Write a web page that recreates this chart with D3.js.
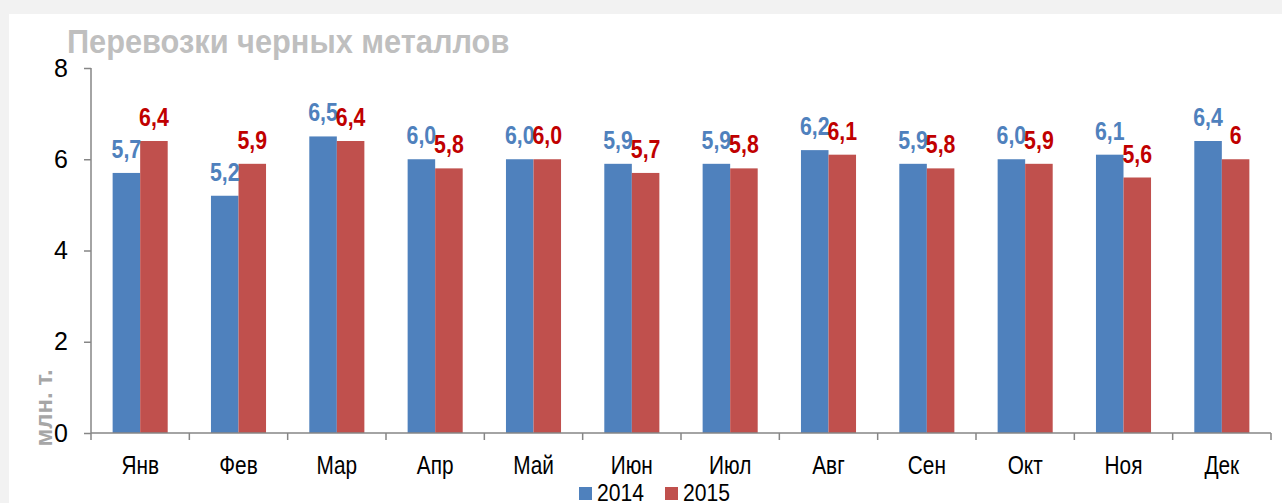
<!DOCTYPE html>
<html>
<head>
<meta charset="utf-8">
<script src="https://cdn.jsdelivr.net/npm/d3@7"></script>
<style>
  html, body { margin: 0; padding: 0; background: #f2f2f2; }
  svg { display: block; }
</style>
</head>
<body>
<svg id="chart"></svg>
<script>
const months = ["Янв", "Фев", "Мар", "Апр", "Май", "Июн", "Июл", "Авг", "Сен", "Окт", "Ноя", "Дек"];
const seriesNames = ["2014", "2015"];
const values2014 = [5.7, 5.2, 6.5, 6.0, 6.0, 5.9, 5.9, 6.2, 5.9, 6.0, 6.1, 6.4];
const values2015 = [6.4, 5.9, 6.4, 5.8, 6.0, 5.7, 5.8, 6.1, 5.8, 5.9, 5.6, 6.0];
const labels2014 = ["5,7", "5,2", "6,5", "6,0", "6,0", "5,9", "5,9", "6,2", "5,9", "6,0", "6,1", "6,4"];
const labels2015 = ["6,4", "5,9", "6,4", "5,8", "6,0", "5,7", "5,8", "6,1", "5,8", "5,9", "5,6", "6"];
const yTicks = [0, 2, 4, 6, 8];

const width = 1282;
const height = 503;
const font = "'Liberation Sans', Arial, sans-serif";
const colors = { "2014": "#4f81bd", "2015": "#c0504d" };
const labelColors = { "2014": "#4f81bd", "2015": "#c00000" };

const svg = d3.select("#chart")
    .attr("width", width)
    .attr("height", height);

// white panel
svg.append("rect")
    .attr("x", 9)
    .attr("y", 14)
    .attr("width", width - 9)
    .attr("height", height - 14)
    .attr("fill", "white");

const x0 = d3.scaleBand().domain(months).range([91, 1271]).padding(0);
const groupW = x0.bandwidth() * 0.56;
const x1 = d3.scaleBand().domain(seriesNames).range([0, groupW]).padding(0);
const y = d3.scaleLinear().domain([0, 8]).range([433, 68]);

const rows = months.map((m, i) => ({
    month: m,
    vals: [
        { s: "2014", v: values2014[i], label: labels2014[i] },
        { s: "2015", v: values2015[i], label: labels2015[i] }
    ]
}));

// title (squeezed a bit, original font is narrower)
svg.append("text")
    .attr("transform", "translate(67,53) scale(0.905,1)")
    .attr("fill", "#bfbfbf")
    .style("font-family", font)
    .style("font-weight", "bold")
    .style("font-size", "34px")
    .text("Перевозки черных металлов");

// y axis title
svg.append("text")
    .attr("transform", "translate(52,408) rotate(-90)")
    .attr("text-anchor", "middle")
    .attr("fill", "#a6a6a6")
    .style("font-family", font)
    .style("font-weight", "bold")
    .style("font-size", "24px")
    .text("млн. т.");

// bars
const groups = svg.selectAll(".grp")
    .data(rows)
    .enter()
    .append("g")
    .attr("class", "grp")
    .attr("transform", d => `translate(${x0(d.month) + (x0.bandwidth() - groupW) / 2},0)`);

groups.selectAll("rect")
    .data(d => d.vals)
    .enter()
    .append("rect")
    .attr("x", d => x1(d.s))
    .attr("y", d => y(d.v))
    .attr("width", x1.bandwidth())
    .attr("height", d => y(0) - y(d.v))
    .attr("fill", d => colors[d.s]);

// value labels, narrow look via horizontal squeeze
groups.selectAll("text")
    .data(d => d.vals)
    .enter()
    .append("text")
    .attr("transform", d => `translate(${x1(d.s) + x1.bandwidth() / 2},${y(d.v) - 15}) scale(0.82,1)`)
    .attr("text-anchor", "middle")
    .attr("fill", d => labelColors[d.s])
    .style("font-family", font)
    .style("font-weight", "bold")
    .style("font-size", "26px")
    .text(d => d.label);

// y axis
const yAxis = svg.append("g")
    .attr("transform", "translate(91,0)")
    .call(d3.axisLeft(y).tickValues(yTicks).tickSize(7).tickPadding(16).tickFormat(d3.format("d")));
yAxis.select(".domain").attr("stroke", "#868686").attr("stroke-width", 1.5).attr("d", "M0,68V433");
yAxis.selectAll(".tick line").attr("stroke", "#868686").attr("stroke-width", 1.5);
yAxis.selectAll(".tick text")
    .attr("fill", "black")
    .style("font-family", font)
    .style("font-size", "25px");

// x axis
const xAxis = svg.append("g")
    .attr("transform", "translate(0,433)")
    .call(d3.axisBottom(x0).tickSize(0));
xAxis.select(".domain").attr("stroke", "#868686").attr("stroke-width", 1.5).attr("d", "M91,0H1271");
xAxis.selectAll(".tick text")
    .attr("y", 0)
    .attr("dy", 0)
    .attr("transform", "translate(0,41) scale(0.8,1)")
    .attr("fill", "black")
    .style("font-family", font)
    .style("font-size", "26px");

// category boundary ticks
const bounds = months.map(m => x0(m)).concat([x0.range()[1]]);
xAxis.selectAll(".bound")
    .data(bounds)
    .enter()
    .append("line")
    .attr("class", "bound")
    .attr("x1", d => d)
    .attr("x2", d => d)
    .attr("y1", 0)
    .attr("y2", 7)
    .attr("stroke", "#868686")
    .attr("stroke-width", 1.5);

// legend
const legend = svg.append("g");
const legendItems = legend.selectAll(".leg")
    .data(seriesNames)
    .enter()
    .append("g")
    .attr("class", "leg")
    .attr("transform", (d, i) => `translate(${579 + i * 86},0)`);
legendItems.append("rect")
    .attr("x", 0)
    .attr("y", 487)
    .attr("width", 13)
    .attr("height", 13)
    .attr("fill", d => colors[d]);
legendItems.append("text")
    .attr("transform", "translate(18,501) scale(0.88,1)")
    .attr("fill", "black")
    .style("font-family", font)
    .style("font-size", "24px")
    .text(d => d);
</script>
</body>
</html>
